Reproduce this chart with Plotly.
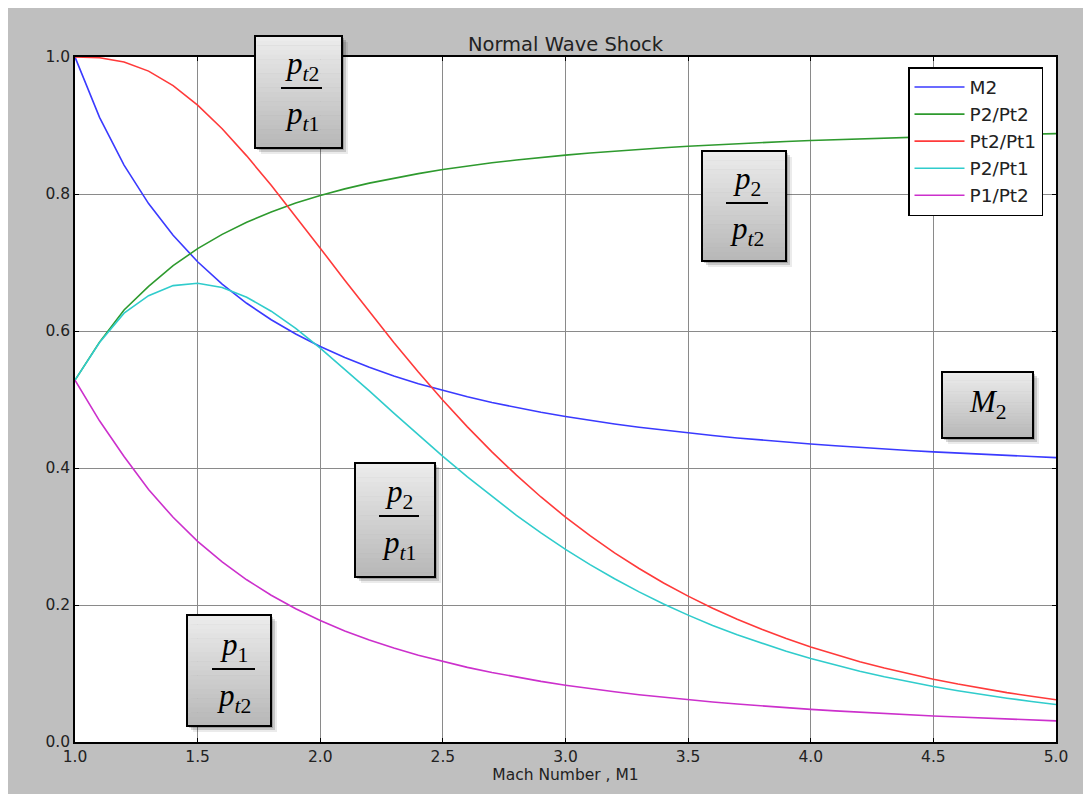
import plotly.graph_objects as go

# ---------------- data ----------------
mach = [1.0, 1.1, 1.2, 1.3, 1.4, 1.5, 1.6, 1.7, 1.8, 1.9,
        2.0, 2.1, 2.2, 2.3, 2.4, 2.5, 2.6, 2.7, 2.8, 2.9,
        3.0, 3.1, 3.2, 3.3, 3.4, 3.5, 3.6, 3.7, 3.8, 3.9,
        4.0, 4.1, 4.2, 4.3, 4.4, 4.5, 4.6, 4.7, 4.8, 4.9, 5.0]

m2 = [1.0000, 0.9118, 0.8422, 0.7860, 0.7397, 0.7011, 0.6684, 0.6405, 0.6165, 0.5956,
      0.5774, 0.5613, 0.5471, 0.5344, 0.5231, 0.5130, 0.5039, 0.4956, 0.4882, 0.4814,
      0.4752, 0.4695, 0.4643, 0.4596, 0.4552, 0.4512, 0.4474, 0.4439, 0.4407, 0.4377,
      0.4350, 0.4324, 0.4299, 0.4277, 0.4255, 0.4236, 0.4217, 0.4199, 0.4183, 0.4167, 0.4152]

p2_pt2 = [0.5283, 0.5838, 0.6306, 0.6652, 0.6954, 0.7202, 0.7411, 0.7588, 0.7738, 0.7867,
          0.7978, 0.8075, 0.8159, 0.8233, 0.8298, 0.8357, 0.8409, 0.8455, 0.8496, 0.8534,
          0.8568, 0.8598, 0.8627, 0.8652, 0.8675, 0.8696, 0.8716, 0.8735, 0.8751, 0.8767,
          0.8781, 0.8794, 0.8807, 0.8818, 0.8829, 0.8839, 0.8849, 0.8858, 0.8866, 0.8874, 0.8881]

pt2_pt1 = [1.0000, 0.9989, 0.9928, 0.9794, 0.9582, 0.9298, 0.8952, 0.8557, 0.8127, 0.7674,
           0.7209, 0.6742, 0.6281, 0.5833, 0.5401, 0.4990, 0.4601, 0.4236, 0.3895, 0.3577,
           0.3283, 0.3012, 0.2762, 0.2533, 0.2322, 0.2130, 0.1953, 0.1792, 0.1645, 0.1510,
           0.1388, 0.1276, 0.1173, 0.1080, 0.0995, 0.0917, 0.0846, 0.0781, 0.0721, 0.0667, 0.0617]

p2_pt1 = [0.5283, 0.5832, 0.6261, 0.6515, 0.6663, 0.6696, 0.6634, 0.6493, 0.6289, 0.6037,
          0.5751, 0.5444, 0.5125, 0.4802, 0.4482, 0.4170, 0.3869, 0.3582, 0.3309, 0.3053,
          0.2813, 0.2590, 0.2383, 0.2192, 0.2014, 0.1852, 0.1702, 0.1565, 0.1440, 0.1324,
          0.1219, 0.1122, 0.1033, 0.0952, 0.0878, 0.0811, 0.0749, 0.0692, 0.0639, 0.0592, 0.0548]

p1_pt2 = [0.5283, 0.4689, 0.4167, 0.3685, 0.3280, 0.2930, 0.2628, 0.2368, 0.2142, 0.1945,
          0.1773, 0.1622, 0.1489, 0.1371, 0.1266, 0.1173, 0.1089, 0.1014, 0.0946, 0.0885,
          0.0829, 0.0779, 0.0733, 0.0691, 0.0652, 0.0617, 0.0584, 0.0554, 0.0526, 0.0501,
          0.0477, 0.0455, 0.0434, 0.0415, 0.0397, 0.0380, 0.0364, 0.0349, 0.0335, 0.0321, 0.0309]

series_names = ["M2", "P2/Pt2", "Pt2/Pt1", "P2/Pt1", "P1/Pt2"]
series_values = [m2, p2_pt2, pt2_pt1, p2_pt1, p1_pt2]
series_colors = ["#3a3aff", "#2e9a2e", "#ff3a3a", "#30cccc", "#cc30cc"]

x_ticks = [1.0, 1.5, 2.0, 2.5, 3.0, 3.5, 4.0, 4.5, 5.0]
y_ticks = [0.0, 0.2, 0.4, 0.6, 0.8, 1.0]

# ---------------- layout geometry (reference pixels) ----------------
OFF = 8                      # page body margin added by the browser
W, H = 1091 - OFF, 794 - OFF
L, R, T, B = 75, 1056, 57, 742   # plot area in page pixels
PW, PH = R - L, B - T


def px(x):
    return (x - L) / PW


def py(y):
    return (B - y) / PH


fig = go.Figure()
for name, vals, col in zip(series_names, series_values, series_colors):
    fig.add_trace(go.Scatter(x=mach, y=vals, mode="lines", name=name,
                             line=dict(color=col, width=1.6)))

shapes = []
annotations = []

# boxes: (x0, y0, x1, y1) in page pixels
boxes = [
    (255, 36, 342, 148),
    (702, 151, 786, 261),
    (942, 372, 1033, 438),
    (355, 463, 435, 577),
    (187, 615, 271, 726),
]

for (x0, y0, x1, y1) in boxes:
    for off, a in [(6, 0.08), (4, 0.15), (2, 0.2)]:
        shapes.append(dict(type="rect", xref="paper", yref="paper", layer="above",
                           x0=px(x0 + off), x1=px(x1 + off), y0=py(y1 + off), y1=py(y0 + off),
                           fillcolor=f"rgba(0,0,0,{a})", line_width=0))
    n = 24
    h = (y1 - y0) / n
    for i in range(n):
        t = i / (n - 1)
        g = int(236 - t * (236 - 184))
        shapes.append(dict(type="rect", xref="paper", yref="paper", layer="above",
                           x0=px(x0), x1=px(x1), y0=py(y0 + (i + 1) * h + 0.5), y1=py(y0 + i * h),
                           fillcolor=f"rgb({g},{g},{g})", line_width=0))
    shapes.append(dict(type="rect", xref="paper", yref="paper", layer="above",
                       x0=px(x0), x1=px(x1), y0=py(y1), y1=py(y0),
                       line=dict(color="black", width=2)))

fractions = [
    (281, 322, 88, "<i>p</i><sub><i>t</i>2</sub>", "<i>p</i><sub><i>t</i>1</sub>", 66, 116),
    (726, 768, 203, "<i>p</i><sub>2</sub>", "<i>p</i><sub><i>t</i>2</sub>", 181, 231),
    (379, 419, 516, "<i>p</i><sub>2</sub>", "<i>p</i><sub><i>t</i>1</sub>", 494, 545),
    (212, 255, 669, "<i>p</i><sub>1</sub>", "<i>p</i><sub><i>t</i>2</sub>", 647, 698),
]
serif = dict(family="Liberation Serif, Times New Roman, serif", size=31, color="black")
for (lx0, lx1, ly, num, den, ny, dy) in fractions:
    shapes.append(dict(type="line", xref="paper", yref="paper", layer="above",
                       x0=px(lx0), x1=px(lx1), y0=py(ly), y1=py(ly),
                       line=dict(color="black", width=2)))
    cx = (lx0 + lx1) / 2
    annotations.append(dict(x=px(cx), y=py(ny), xref="paper", yref="paper", text=num,
                            showarrow=False, font=serif, xanchor="center", yanchor="middle"))
    annotations.append(dict(x=px(cx), y=py(dy), xref="paper", yref="paper", text=den,
                            showarrow=False, font=serif, xanchor="center", yanchor="middle"))

annotations.append(dict(x=px(988), y=py(404), xref="paper", yref="paper",
                        text="<i>M</i><sub>2</sub>", showarrow=False, font=serif,
                        xanchor="center", yanchor="middle"))

tickfont = dict(family="DejaVu Sans", size=15.5, color="#222222")

fig.update_layout(
    width=W, height=H,
    margin=dict(l=L - OFF, r=W - (R - OFF), t=T - OFF, b=H - (B - OFF), pad=0),
    paper_bgcolor="#bfbfbf",
    plot_bgcolor="white",
    title=dict(text="Normal Wave Shock", x=px((L + R) / 2), xanchor="center",
               xref="paper", y=1 - (44 - OFF) / H, yanchor="middle",
               font=dict(family="DejaVu Sans", size=19.5, color="#222222")),
    xaxis=dict(range=[1.0, 5.0], tickvals=x_ticks, ticktext=[f"{v:.1f}" for v in x_ticks],
               showgrid=True, gridcolor="#8a8a8a", gridwidth=1,
               showline=True, linecolor="black", linewidth=1.5, mirror="ticks",
               ticks="inside", ticklen=4, tickcolor="black",
               tickfont=tickfont, zeroline=False,
               title=dict(text="Mach Number , M1", standoff=3,
                          font=dict(family="DejaVu Sans", size=15.5, color="#222222"))),
    yaxis=dict(range=[0.0, 1.0], tickvals=y_ticks, ticktext=[f"{v:.1f}" for v in y_ticks],
               showgrid=True, gridcolor="#8a8a8a", gridwidth=1,
               showline=True, linecolor="black", linewidth=1.5, mirror="ticks",
               ticks="inside", ticklen=4, tickcolor="black",
               tickfont=tickfont, zeroline=False),
    legend=dict(x=px(908), y=py(67), xanchor="left", yanchor="top",
                bgcolor="white", bordercolor="black", borderwidth=1.5,
                font=dict(family="DejaVu Sans", size=18.5, color="#222222"),
                itemwidth=50, tracegroupgap=0),
    shapes=shapes,
    annotations=annotations,
    showlegend=True,
)

fig.write_html("out.html")
